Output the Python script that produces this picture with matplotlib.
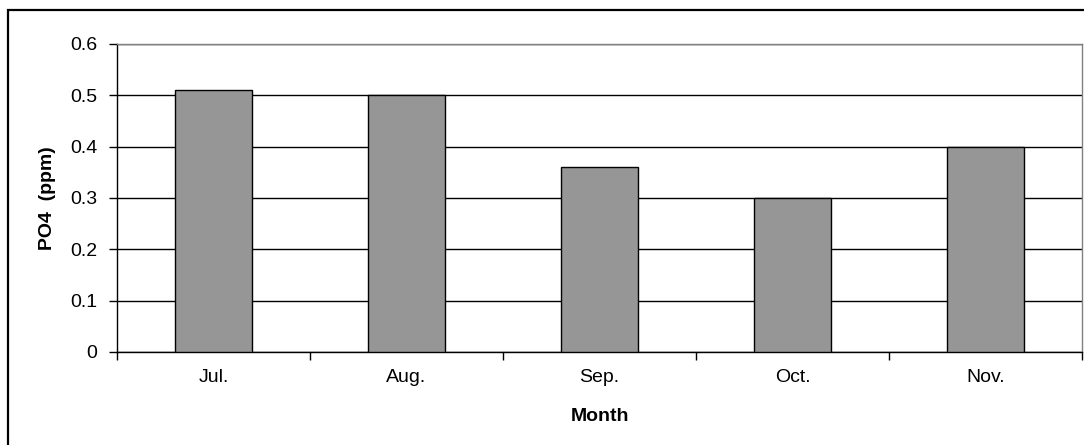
import matplotlib
matplotlib.use("Agg")
import matplotlib.pyplot as plt
from matplotlib.patches import Rectangle
import numpy as np

months = ["Jul.", "Aug.", "Sep.", "Oct.", "Nov."]
po4_ppm = [0.51, 0.50, 0.36, 0.30, 0.40]
y_ticks = [0, 0.1, 0.2, 0.3, 0.4, 0.5, 0.6]
y_tick_labels = ["0", "0.1", "0.2", "0.3", "0.4", "0.5", "0.6"]

plt.rcParams["font.family"] = ["Liberation Sans", "DejaVu Sans"]
FS = 14

W, H = 1084, 445
fig = plt.figure(figsize=(W / 100, H / 100), dpi=100)
fig.patch.set_facecolor("white")

# outer chart frame (runs off the right and bottom edges)
fig.add_artist(Rectangle((8 / W, -0.05), 1.2, (H - 10) / H + 0.05,
                         transform=fig.transFigure, fill=False,
                         edgecolor="black", linewidth=1.6))

left, right, top, bottom = 117, 1082, 44, 352
ax = fig.add_axes([left / W, 1 - bottom / H, (right - left) / W, (bottom - top) / H])

x = np.arange(len(months))
ax.bar(x, po4_ppm, width=0.4, color="#969696", edgecolor="black", linewidth=1.0, zorder=3)

ax.set_xlim(-0.5, len(months) - 0.5)
ax.set_ylim(0, 0.6)
ax.set_yticks(y_ticks)
ax.set_yticklabels(y_tick_labels, fontsize=FS)
ax.yaxis.grid(True, color="black", linewidth=1.0, zorder=0)
ax.set_axisbelow(True)

# category labels centred, ticks at category boundaries
ax.set_xticks(x)
ax.set_xticklabels(months, fontsize=FS)
ax.tick_params(axis="x", which="major", length=0, pad=12)
ax.set_xticks(np.arange(-0.5, len(months)), minor=True)
ax.tick_params(axis="x", which="minor", length=6, width=1.0, direction="out")
ax.tick_params(axis="y", length=6, width=1.0, direction="out", pad=8)

for side in ("top", "right"):
    ax.spines[side].set_color("#808080")
    ax.spines[side].set_linewidth(1.0)
for side in ("left", "bottom"):
    ax.spines[side].set_color("black")
    ax.spines[side].set_linewidth(1.0)

ax.set_xlabel("Month", fontsize=FS, fontweight="bold", labelpad=16)
ax.set_ylabel("PO4  (ppm)", fontsize=FS, fontweight="bold", labelpad=10)

fig.savefig("out.png", dpi=100)
